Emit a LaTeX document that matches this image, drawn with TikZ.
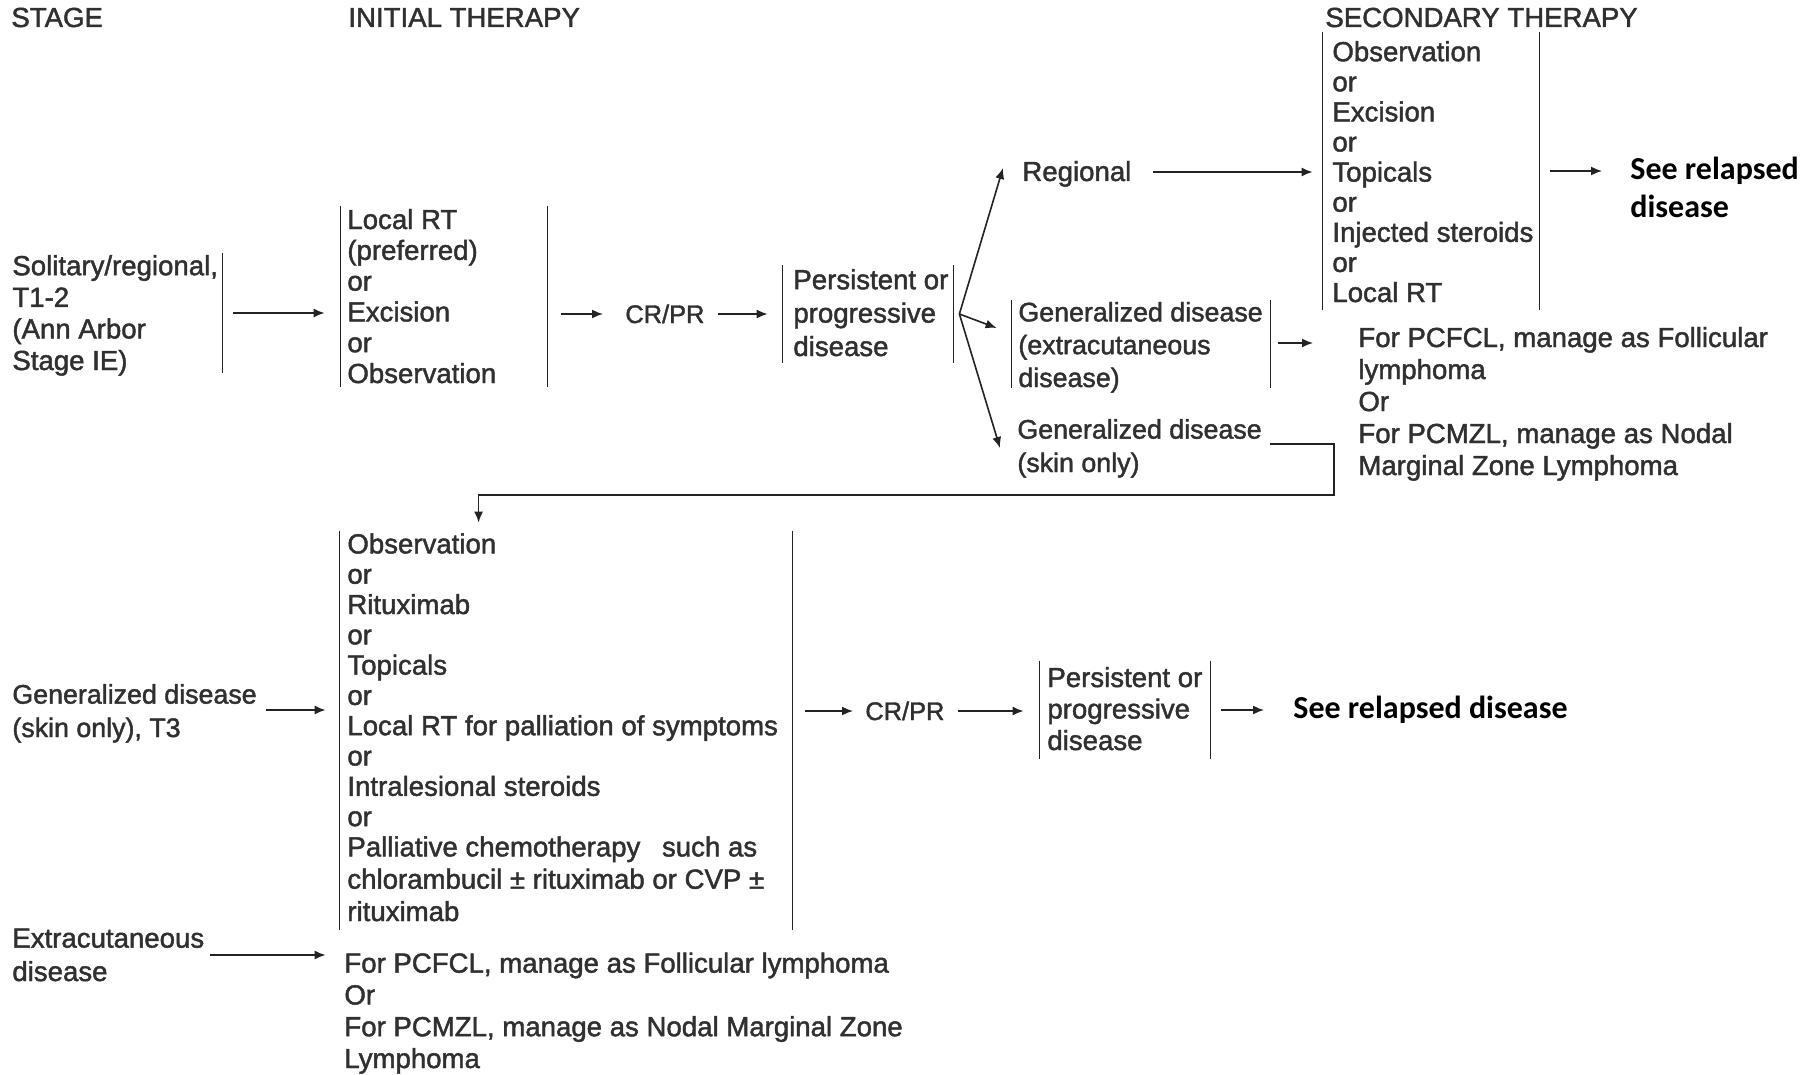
\documentclass[tikz,border=0pt]{standalone}
\usepackage{fontspec}
\setmainfont{Liberation Sans}[FakeBold=1.6]
\newfontfamily\calibfont{Carlito}
\usetikzlibrary{arrows.meta,calc,fit}
\definecolor{txtgray}{RGB}{48,48,48}
\definecolor{inkline}{RGB}{35,35,35}
\begin{document}
\begin{tikzpicture}[x=0.5pt,y=-0.5pt,
  lbl/.style={anchor=base west, inner sep=0pt, align=left, text=txtgray},
  sz/.style={font=\fontsize{13.8}{#1}\selectfont},
  szs/.style={font=\fontsize{13.4}{#1}\selectfont},
  note/.style={anchor=base west, inner sep=0pt, align=left, text=black,
    font=\calibfont\bfseries\fontsize{16}{19}\selectfont},
  bar/.style={draw=inkline, line width=0.8pt},
  brk/.style={inner sep=0pt, append after command={
    (\tikzlastnode.north west) edge[bar] (\tikzlastnode.south west)
    (\tikzlastnode.north east) edge[bar] (\tikzlastnode.south east)}},
  rbrk/.style={inner sep=0pt, append after command={
    (\tikzlastnode.north east) edge[bar] (\tikzlastnode.south east)}},
  arr/.style={draw=inkline, line width=0.8pt, -{Latex[length=5.5pt,width=4.5pt]}}
]
\fill[white] (0,0) rectangle (1804,1075);
\useasboundingbox (0,0) rectangle (1804,1075);

% column headings
\node[lbl,sz=15] (hstage) at (11,27) {STAGE};
\node[lbl,sz=15] (hinit) at (348,27) {INITIAL THERAPY};
\node[lbl,sz=15] (hsec) at (1325,27) {SECONDARY THERAPY};

% multi-line labels are anchored at the baseline of their last line

% ---- solitary / regional branch ----
\node[rbrk, fit={(12,253) (222,373)}] (s1box) {};
\node[lbl,sz=15.8] (s1) at (12,370) {Solitary/regional,\\T1-2\\(Ann Arbor\\Stage IE)};

\node[brk, fit={(341,206) (547,387)}] (lrt) {};
\node[lbl,sz=15.4] (lrttxt) at (347,383) {Local RT\\(preferred)\\or\\Excision\\or\\Observation};

\node[lbl,font=\fontsize{12.7}{15}\selectfont] (cr1) at (625,323) {CR/PR};

\node[brk, fit={(783,265) (953,363)}] (pp1) {};
\node[lbl,sz=16.7] (pp1txt) at (793,356) {Persistent or\\progressive\\disease};
\coordinate (fan) at ($(pp1.east)+(6,0)$);

\node[lbl,sz=15] (reg) at (1022,181) {Regional};

\node[brk, fit={(1323,32) (1539,310)}] (sec) {};
\node[lbl,sz=15.05] (sectxt) at (1332,302) {Observation\\or\\Excision\\or\\Topicals\\or\\Injected steroids\\or\\Local RT};

\node[note] (seer1) at (1630,218) {See relapsed\\disease};

\node[brk, fit={(1012,300) (1270,388)}] (gext) {};
\node[lbl,szs=16.4] (gexttxt) at (1018,387) {Generalized disease\\(extracutaneous\\disease)};

\node[lbl,sz=16] (pcfcl1) at (1358,475) {For PCFCL, manage as Follicular\\lymphoma\\Or\\For PCMZL, manage as Nodal\\Marginal Zone Lymphoma};

\node[lbl,szs=16.7] (gskin) at (1017,472) {Generalized disease\\(skin only)};

% ---- generalized skin-only branch ----
\node[lbl,szs=16.7] (gen3) at (12,737) {Generalized disease\\(skin only), T3};

\node[brk, fit={(340,531) (792,930)}] (tx) {};
\node[lbl,sz=15.15] (txtxt) at (347,921) {Observation\\or\\Rituximab\\or\\Topicals\\or\\Local RT for palliation of symptoms\\or\\Intralesional steroids\\or\\Palliative chemotherapy\hspace{7pt} such as\\[1pt]chlorambucil ± rituximab or CVP ±\\[1pt]rituximab};

\node[lbl,font=\fontsize{12.7}{15}\selectfont] (cr2) at (865,720) {CR/PR};

\node[brk, fit={(1040,661) (1210,759)}] (pp2) {};
\node[lbl,sz=15.75] (pp2txt) at (1047,750) {Persistent or\\progressive\\disease};

\node[note] (seer2) at (1293,718) {See relapsed disease};

% ---- extracutaneous branch ----
\node[lbl,sz=16.7] (ext) at (12,981) {Extracutaneous\\disease};
\node[lbl,sz=15.9] (pcfcl2) at (344,1068) {For PCFCL, manage as Follicular lymphoma\\Or\\For PCMZL, manage as Nodal Marginal Zone\\Lymphoma};

% ---- connectors ----
\draw[arr] ($(s1box.east)+(11,0)$) -- ($(s1box.east -| lrt.west)+(-16,0)$);
\draw[arr] ($(lrt.east |- cr1.base)+(14,-9)$) -- ($(cr1.base west)+(-22,-9)$);
\draw[arr] ($(cr1.base west)+(93,-9)$) -- ($(cr1.base west -| pp1.west)+(-15,-9)$);

\draw[arr] (fan) -- ($(reg.base west)+(-19,-13)$);
\draw[arr] (fan) -- ($(gext.west)+(-15,-16)$);
\draw[arr] (fan) -- ($(gskin.base west)+(-17,-24)$);

\draw[arr] ($(reg.base west)+(131,-9)$) -- ($(reg.base west -| sec.west)+(-10,-9)$);
\draw[arr] ($(sec.east)+(11,0)$) -- ($(sec.east -| seer1.west)+(-28,0)$);
\draw[arr] ($(gext.east)+(8,-1)$) -- ($(gext.east -| pcfcl1.west)+(-45,-1)$);

\draw[arr] ($(gskin.base west)+(253,-28)$) -- ++(64,0) -- ++(0,51)
  -| ($(tx.north west)+(139,-8)$);

\draw[arr] ($(gen3.base west)+(254,-27)$) -- ($(gen3.base west -| tx.west)+(-14,-27)$);
\draw[arr] ($(cr2.base west -| tx.east)+(13,-9)$) -- ($(cr2.base west)+(-12,-9)$);
\draw[arr] ($(cr2.base west -| pp2.west)+(-82,-9)$) -- ($(cr2.base west -| pp2.west)+(-16,-9)$);
\draw[arr] ($(pp2.east)+(11,0)$) -- ($(pp2.east -| seer2.west)+(-29,0)$);
\draw[arr] ($(ext.base west)+(198,-26)$) -- ($(ext.base west -| tx.west)+(-14,-26)$);
\end{tikzpicture}
\end{document}
